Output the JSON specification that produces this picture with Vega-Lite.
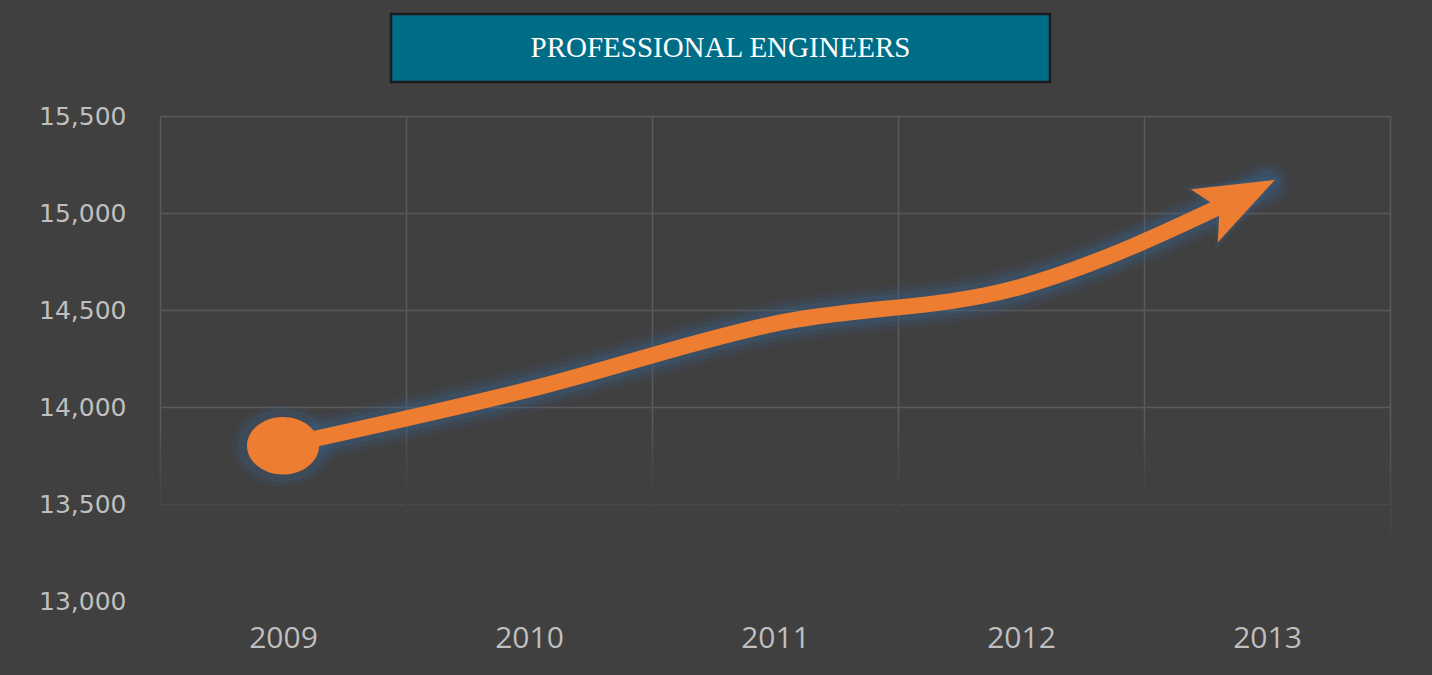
{
  "$schema": "https://vega.github.io/schema/vega-lite/v6.json",
  "background": "#404040",
  "padding": {"left": 38, "top": 12, "right": 42, "bottom": 30},
  "autosize": {"type": "pad"},
  "config": {"view": {"stroke": null}, "font": "DejaVu Sans"},
  "spacing": 7,
  "vconcat": [
    {
      "bounds": "flush",
      "spacing": 0,
      "hconcat": [
        {
          "width": 231,
          "height": 68,
          "view": {"fill": "#404040", "stroke": null},
          "data": {"values": [{"t": ""}]},
          "mark": {"type": "text"},
          "encoding": {"text": {"field": "t"}}
        },
        {
          "width": 659,
          "height": 68,
          "view": {"fill": "#006D86", "stroke": "#1c1c1c", "strokeWidth": 2.5},
          "data": {"values": [{"t": "PROFESSIONAL ENGINEERS"}]},
          "mark": {"type": "text", "font": "Liberation Serif", "fontSize": 29, "color": "#ffffff", "baseline": "middle", "align": "center"},
          "encoding": {"text": {"field": "t"}}
        }
      ]
    },
    {
      "width": 1230,
      "height": 485,
      "data": {
        "values": [
          {"year": "2009", "engineers": 13800},
          {"year": "2010", "engineers": 14090},
          {"year": "2011", "engineers": 14430},
          {"year": "2012", "engineers": 14620},
          {"year": "2013", "engineers": 15150}
        ]
      },
      "encoding": {
        "x": {
          "field": "year",
          "type": "ordinal",
          "scale": {"paddingInner": 0, "paddingOuter": 0},
          "axis": {
            "title": null,
            "zindex": 0,
            "tickBand": "extent",
            "grid": true,
            "gridColor": "#5a5a5a",
            "gridWidth": 1.5,
            "ticks": false,
            "domain": false,
            "labelFont": "Open Sans",
            "labelFontSize": 30,
            "labelColor": "#BFBFBF",
            "labelPadding": 22,
            "labelAngle": 0
          }
        },
        "y": {
          "field": "engineers",
          "type": "quantitative",
          "scale": {"domain": [13000, 15500], "nice": false, "zero": false},
          "axis": {
            "title": null,
            "zindex": 0,
            "values": [13000, 13500, 14000, 14500, 15000, 15500],
            "format": ",d",
            "grid": true,
            "gridColor": "#5a5a5a",
            "gridWidth": 1.5,
            "ticks": false,
            "domain": false,
            "labelFont": "DejaVu Sans",
            "labelFontSize": 25,
            "labelColor": "#BFBFBF",
            "labelPadding": 34
          }
        }
      },
      "layer": [
        {
          "mark": {
            "type": "rect",
            "strokeWidth": 4,
            "fill": {
              "gradient": "linear",
              "x1": 0, "y1": 0, "x2": 0, "y2": 1,
              "stops": [
                {"offset": 0, "color": "rgba(64,64,64,0)"},
                {"offset": 0.72, "color": "#404040"},
                {"offset": 1, "color": "#404040"}
              ]
            },
            "stroke": {
              "gradient": "linear",
              "x1": 0, "y1": 0, "x2": 0, "y2": 1,
              "stops": [
                {"offset": 0, "color": "rgba(64,64,64,0)"},
                {"offset": 0.72, "color": "#404040"},
                {"offset": 1, "color": "#404040"}
              ]
            }
          },
          "encoding": {
            "y": {"datum": 13900},
            "y2": {"datum": 12980}
          }
        },
        {
          "mark": {"type": "line", "interpolate": "monotone", "strokeWidth": 46, "color": "#3a6590", "opacity": 0.1, "strokeCap": "round"}
        },
        {
          "mark": {"type": "line", "interpolate": "monotone", "strokeWidth": 36, "color": "#3a6590", "opacity": 0.16, "strokeCap": "round"}
        },
        {
          "mark": {"type": "line", "interpolate": "monotone", "strokeWidth": 27, "color": "#3a6590", "opacity": 0.26, "strokeCap": "round"}
        },
        {
          "transform": [{"filter": "datum.year == '2009'"}],
          "mark": {"type": "point", "shape": "M -1 0 A 1 0.8 0 1 0 1 0 A 1 0.8 0 1 0 -1 0 Z", "size": 10400, "filled": true, "color": "#3a6590", "opacity": 0.12, "strokeWidth": 0}
        },
        {
          "transform": [{"filter": "datum.year == '2009'"}],
          "mark": {"type": "point", "shape": "M -1 0 A 1 0.8 0 1 0 1 0 A 1 0.8 0 1 0 -1 0 Z", "size": 8300, "filled": true, "color": "#3a6590", "opacity": 0.2, "strokeWidth": 0}
        },
        {
          "transform": [{"filter": "datum.year == '2013'"}],
          "mark": {"type": "point", "shape": "M 1 0 L -0.65 -0.62 L -0.3 0 L -0.65 0.62 Z", "size": 14000, "angle": -27, "xOffset": -34.8, "yOffset": 17.7, "filled": true, "color": "#3a6590", "opacity": 0.14, "strokeWidth": 0}
        },
        {
          "transform": [{"filter": "datum.year == '2013'"}],
          "mark": {"type": "point", "shape": "M 1 0 L -0.65 -0.62 L -0.3 0 L -0.65 0.62 Z", "size": 11500, "angle": -27, "xOffset": -34.8, "yOffset": 17.7, "filled": true, "color": "#3a6590", "opacity": 0.2, "strokeWidth": 0}
        },
        {
          "mark": {"type": "line", "interpolate": "monotone", "strokeWidth": 16, "color": "#ED7D31", "strokeCap": "butt", "strokeDash": [997, 400]}
        },
        {
          "transform": [{"filter": "datum.year == '2009'"}],
          "mark": {"type": "point", "shape": "M -1 0 A 1 0.8 0 1 0 1 0 A 1 0.8 0 1 0 -1 0 Z", "size": 5184, "filled": true, "color": "#ED7D31", "opacity": 1, "strokeWidth": 0}
        },
        {
          "transform": [{"filter": "datum.year == '2013'"}],
          "mark": {"type": "point", "shape": "M 1 0 L -0.65 -0.62 L -0.3 0 L -0.65 0.62 Z", "size": 9216, "angle": -27, "xOffset": -34.8, "yOffset": 17.7, "filled": true, "color": "#ED7D31", "opacity": 1, "strokeWidth": 0}
        }
      ]
    }
  ]
}
